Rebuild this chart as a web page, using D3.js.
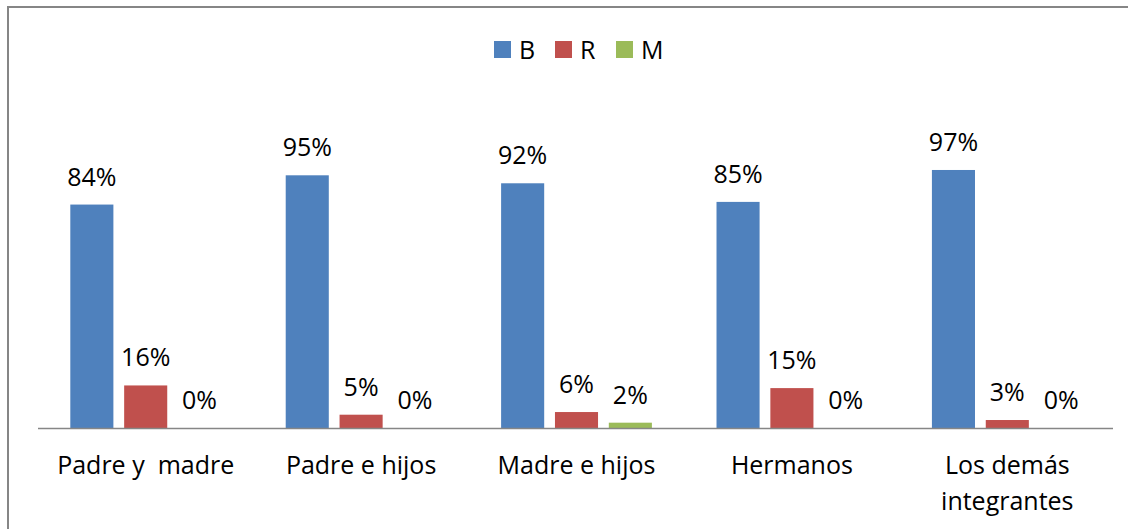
<!DOCTYPE html>
<meta charset="utf-8">
<title>chart</title>
<style>
body { margin: 0; background: #fff; overflow: hidden; }
text { font-family: "Open Sans", sans-serif; fill: #000; white-space: pre; }
</style>
<body>
<div id="chart"></div>
<script src="https://cdn.jsdelivr.net/npm/d3@7"></script>
<script>
var categories = ["Padre y  madre", "Padre e hijos", "Madre e hijos", "Hermanos", "Los demás\nintegrantes"];
var series = ["B", "R", "M"];
var valuesB = [84, 95, 92, 85, 97];
var valuesR = [16, 5, 6, 15, 3];
var valuesM = [0, 0, 2, 0, 0];
var colors = ["#4F81BD", "#C0504D", "#9BBB59"];

var seriesValues = [valuesB, valuesR, valuesM];

var width = 1128, height = 529;

var svg = d3.select("#chart").append("svg")
    .attr("width", width)
    .attr("height", height)
    .style("display", "block");

// outer frame
svg.append("rect")
    .attr("x", 8).attr("y", 7)
    .attr("width", 1200).attr("height", 600)
    .style("fill", "none")
    .style("stroke", "#868686")
    .style("stroke-width", 2);

var x0 = d3.scaleBand()
    .domain(categories)
    .range([38, 1115]);

var x1 = d3.scaleBand()
    .domain(series)
    .range([0, x0.bandwidth()])
    .paddingInner(0.2)
    .paddingOuter(0.6);

var y = d3.scaleLinear()
    .domain([0, 100])
    .range([428, 162]);

var rows = [];
categories.forEach(function(c, i) {
  series.forEach(function(s, j) {
    rows.push({cat: c, series: s, value: seriesValues[j][i], color: colors[j]});
  });
});

var bar = svg.append("g").selectAll(".bar")
    .data(rows)
  .enter().append("g")
    .attr("class", "bar")
    .attr("transform", function(d) { return "translate(" + (x0(d.cat) + x1(d.series)) + ",0)"; });

bar.append("rect")
    .attr("y", function(d) { return y(d.value); })
    .attr("width", x1.bandwidth())
    .attr("height", function(d) { return y(0) - y(d.value); })
    .style("fill", function(d) { return d.color; });

bar.append("text")
    .attr("x", x1.bandwidth() / 2)
    .attr("y", function(d) { return y(d.value) - 19; })
    .attr("text-anchor", "middle")
    .style("font-size", "25px")
    .text(function(d) { return d.value + "%"; });

// baseline
svg.append("line")
    .attr("x1", 38).attr("x2", 1113)
    .attr("y1", y(0) + 0.5).attr("y2", y(0) + 0.5)
    .style("stroke", "#868686")
    .style("stroke-width", 1.5);

// category labels
var cat = svg.append("g").selectAll(".cat")
    .data(categories)
  .enter().append("text")
    .attr("class", "cat")
    .attr("text-anchor", "middle")
    .attr("transform", function(d) { return "translate(" + (x0(d) + x0.bandwidth() / 2) + ",474)"; })
    .style("font-size", "25px");

cat.selectAll("tspan")
    .data(function(d) { return d.split("\n"); })
  .enter().append("tspan")
    .attr("x", 0)
    .attr("dy", function(d, i) { return i ? 36 : 0; })
    .text(function(d) { return d; });

// legend
var legendX = [494, 555, 616];
var legend = svg.append("g").selectAll(".legend")
    .data(series)
  .enter().append("g")
    .attr("class", "legend")
    .attr("transform", function(d, i) { return "translate(" + legendX[i] + ",41)"; });

legend.append("rect")
    .attr("width", 17).attr("height", 17)
    .style("fill", function(d, i) { return colors[i]; });

legend.append("text")
    .attr("x", 25)
    .attr("y", 18)
    .style("font-size", "25px")
    .text(function(d) { return d; });
</script>
</body>
